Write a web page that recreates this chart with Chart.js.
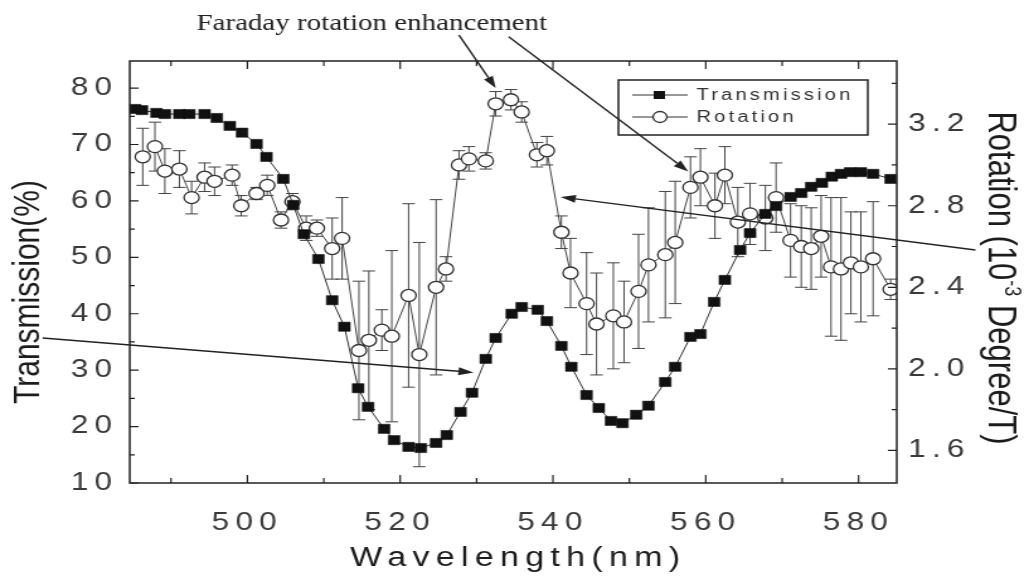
<!DOCTYPE html>
<html>
<head>
<meta charset="utf-8">
<title>Faraday rotation and transmission</title>
<script src="https://cdn.jsdelivr.net/npm/chart.js@4.4.1/dist/chart.umd.min.js"></script>
<style>
  html, body { margin: 0; padding: 0; background: #fff; }
  #chart { display: block; }
</style>
</head>
<body>
<!-- the source figure is stretched sideways, so the canvas is drawn narrow and widened by its inline style -->
<canvas id="chart" width="817" height="582" style="width:1029px;height:582px"></canvas>
<script>
// Transmission (%), filled squares
const transWavelength = [485.3, 486.2, 488.1, 489.2, 491.1, 492.4, 494.4, 496.0, 497.7, 499.3,
  501.2, 502.5, 504.7, 506.0, 507.4, 509.3, 511.1, 512.7, 514.5, 515.8,
  517.9, 519.2, 521.1, 522.7, 524.7, 526.1, 527.9, 529.4, 531.2, 532.5,
  534.6, 535.9, 538.0, 539.2, 541.1, 542.4, 544.4, 546.0, 547.6, 549.1,
  550.9, 552.5, 554.7, 556.0, 558.0, 559.3, 561.1, 562.5, 564.5, 565.8,
  567.8, 569.2, 571.1, 572.5, 573.8, 575.2, 576.5, 577.7, 578.9, 580.3,
  581.9, 584.2];
const transmission = [76.3, 76.1, 75.6, 75.4, 75.4, 75.4, 75.4, 74.7, 73.3, 72.1,
  70.1, 67.8, 63.9, 59.3, 54.1, 49.7, 42.4, 37.7, 26.8, 23.5,
  19.6, 17.6, 16.4, 16.2, 17.1, 18.5, 22.6, 26.0, 32.0, 35.7,
  40.0, 41.2, 40.7, 38.7, 34.3, 30.6, 25.6, 23.3, 21.0, 20.6,
  22.1, 23.7, 27.9, 30.6, 35.9, 36.4, 42.1, 46.0, 51.3, 54.3,
  57.7, 59.1, 60.7, 61.4, 62.5, 63.2, 64.3, 64.8, 65.1, 65.1,
  64.8, 63.9];

// Rotation (10^-3 degree/T), open circles with error bars
const rotWavelength = [486.3, 487.9, 489.2, 491.1, 492.7, 494.4, 495.7, 498.0, 499.2, 501.2,
  502.6, 504.4, 505.9, 507.7, 509.1, 511.1, 512.4, 514.6, 515.9, 517.6,
  518.9, 521.1, 522.5, 524.7, 526.0, 527.7, 529.0, 531.2, 532.5, 534.5,
  535.9, 537.9, 539.2, 541.1, 542.3, 544.4, 545.7, 547.9, 549.3, 551.2,
  552.5, 554.7, 556.0, 558.0, 559.3, 561.2, 562.5, 564.2, 565.8, 567.8,
  569.2, 571.1, 572.5, 573.8, 575.1, 576.4, 577.7, 579.0, 580.3, 581.9,
  584.2];
const rotation = [3.04, 3.09, 2.97, 2.98, 2.84, 2.94, 2.92, 2.95, 2.80, 2.86,
  2.90, 2.73, 2.82, 2.69, 2.69, 2.59, 2.64, 2.09, 2.14, 2.19,
  2.16, 2.36, 2.07, 2.40, 2.49, 3.00, 3.03, 3.02, 3.30, 3.32,
  3.26, 3.05, 3.07, 2.67, 2.47, 2.32, 2.22, 2.26, 2.23, 2.38,
  2.51, 2.56, 2.62, 2.89, 2.94, 2.80, 2.95, 2.72, 2.76, 2.74,
  2.84, 2.63, 2.60, 2.59, 2.65, 2.50, 2.49, 2.52, 2.50, 2.54,
  2.39];
const rotationErr = [0.14, 0.12, 0.11, 0.09, 0.08, 0.07, 0.07, 0.05, 0.05, 0.03,
  0.05, 0.04, 0.04, 0.06, 0.04, 0.15, 0.20, 0.34, 0.34, 0.10,
  0.42, 0.45, 0.55, 0.43, 0.06, 0.07, 0.06, 0.04, 0.06, 0.05,
  0.05, 0.06, 0.07, 0.08, 0.17, 0.25, 0.25, 0.26, 0.20, 0.28,
  0.28, 0.31, 0.30, 0.15, 0.14, 0.16, 0.14, 0.17, 0.15, 0.16,
  0.17, 0.18, 0.20, 0.20, 0.20, 0.34, 0.35, 0.25, 0.27, 0.28,
  0.05];

// Axis ticks
const xTicks = [500, 520, 540, 560, 580];
const xMinorTicks = [490, 510, 530, 550, 570];
const yTicks = [10, 20, 30, 40, 50, 60, 70, 80];
const yMinorTicks = [15, 25, 35, 45, 55, 65, 75];
const y1Ticks = [1.6, 2.0, 2.4, 2.8, 3.2];
const y1MinorTicks = [1.8, 2.2, 2.6, 3.0, 3.4];

// Annotation arrows, in (wavelength, transmission) units
const arrows = [
  { from: [527.7, 89.4], to: [532.5, 80.0] },
  { from: [534.2, 89.1], to: [557.7, 65.2] },
  { from: [473.2, 35.7], to: [529.6, 29.6] },
  { from: [595.3, 51.3], to: [541.0, 60.7] }
];

const INK = '#222';
const SANS = "'Liberation Sans', Arial, sans-serif";
Chart.defaults.font.family = SANS;

function drawArrow(ctx, x1, y1, x2, y2) {
  const ang = Math.atan2(y2 - y1, x2 - x1);
  const head = 12, half = 4;
  const bx = x2 - head * Math.cos(ang), by = y2 - head * Math.sin(ang);
  ctx.beginPath();
  ctx.moveTo(x1, y1);
  ctx.lineTo(bx, by);
  ctx.stroke();
  ctx.beginPath();
  ctx.moveTo(x2, y2);
  ctx.lineTo(bx + half * Math.sin(ang), by - half * Math.cos(ang));
  ctx.lineTo(bx - half * Math.sin(ang), by + half * Math.cos(ang));
  ctx.closePath();
  ctx.fill();
}

const figurePlugin = {
  id: 'figure',
  beforeDraw(chart) {
    // spaced-out tick digits like the original export
    chart.ctx.letterSpacing = '5px';
  },
  beforeDatasetsDraw(chart) {
    const { ctx, scales: { x, y1 } } = chart;
    ctx.save();
    ctx.strokeStyle = '#444';
    ctx.lineWidth = 1;
    rotWavelength.forEach((w, i) => {
      const px = x.getPixelForValue(w);
      const top = y1.getPixelForValue(rotation[i] + rotationErr[i]);
      const bot = y1.getPixelForValue(rotation[i] - rotationErr[i]);
      ctx.beginPath();
      ctx.moveTo(px, top); ctx.lineTo(px, bot);
      ctx.moveTo(px - 5, top); ctx.lineTo(px + 5, top);
      ctx.moveTo(px - 5, bot); ctx.lineTo(px + 5, bot);
      ctx.stroke();
    });
    ctx.restore();
  },
  afterDraw(chart) {
    const { ctx, chartArea: a, scales: { x, y, y1 } } = chart;
    ctx.save();
    ctx.letterSpacing = '0px';
    ctx.strokeStyle = INK;
    ctx.fillStyle = INK;

    // frame
    ctx.lineWidth = 1.5;
    ctx.strokeRect(a.left, a.top, a.right - a.left, a.bottom - a.top);

    // inward tick marks (mirrored on top)
    ctx.lineWidth = 1.2;
    ctx.beginPath();
    const xMark = (v, len) => {
      const p = x.getPixelForValue(v);
      ctx.moveTo(p, a.bottom); ctx.lineTo(p, a.bottom - len);
      ctx.moveTo(p, a.top); ctx.lineTo(p, a.top + len);
    };
    xTicks.forEach(v => xMark(v, 8));
    xMinorTicks.forEach(v => xMark(v, 5));
    const yMark = (v, len) => {
      const p = y.getPixelForValue(v);
      ctx.moveTo(a.left, p); ctx.lineTo(a.left + len, p);
    };
    yTicks.forEach(v => yMark(v, 7));
    yMinorTicks.forEach(v => yMark(v, 4));
    const y1Mark = (v, len) => {
      const p = y1.getPixelForValue(v);
      ctx.moveTo(a.right, p); ctx.lineTo(a.right - len, p);
    };
    y1Ticks.forEach(v => y1Mark(v, 7));
    y1MinorTicks.forEach(v => y1Mark(v, 4));
    ctx.stroke();

    // legend box
    const lg = { left: 491, top: 80, right: 689, bottom: 135 };
    ctx.fillStyle = '#fff';
    ctx.fillRect(lg.left, lg.top, lg.right - lg.left, lg.bottom - lg.top);
    ctx.lineWidth = 1.5;
    ctx.strokeRect(lg.left, lg.top, lg.right - lg.left, lg.bottom - lg.top);
    const rows = [95, 117];
    chart.data.datasets.forEach((ds, i) => {
      const ry = rows[i];
      ctx.lineWidth = 1;
      ctx.strokeStyle = '#333';
      ctx.beginPath();
      ctx.moveTo(502, ry); ctx.lineTo(546, ry);
      ctx.stroke();
      if (ds.pointStyle === 'rect') {
        ctx.fillStyle = '#111';
        ctx.fillRect(519, ry - 4, 9, 8);
      } else {
        ctx.fillStyle = '#fff';
        ctx.lineWidth = 1.3;
        ctx.beginPath();
        ctx.arc(524, ry, 5.5, 0, Math.PI * 2);
        ctx.fill();
        ctx.stroke();
      }
      ctx.fillStyle = '#333';
      ctx.font = '16px ' + SANS;
      ctx.letterSpacing = '2.5px';
      ctx.textAlign = 'left';
      ctx.textBaseline = 'middle';
      ctx.fillText(ds.label, 553, ry + 1);
      ctx.letterSpacing = '0px';
    });

    // annotation arrows
    ctx.strokeStyle = INK;
    ctx.fillStyle = INK;
    ctx.lineWidth = 1.4;
    arrows.forEach(ar => {
      drawArrow(ctx,
        x.getPixelForValue(ar.from[0]), y.getPixelForValue(ar.from[1]),
        x.getPixelForValue(ar.to[0]), y.getPixelForValue(ar.to[1]));
    });

    // annotation label
    ctx.font = "23px 'Liberation Serif', 'Times New Roman', serif";
    ctx.textAlign = 'left';
    ctx.textBaseline = 'alphabetic';
    ctx.fillText('Faraday rotation enhancement', 156, 30);

    // axis titles
    ctx.fillStyle = '#1c1c1c';
    ctx.font = '27px ' + SANS;
    ctx.textAlign = 'center';
    ctx.textBaseline = 'middle';
    ctx.letterSpacing = '5px';
    ctx.fillText('Wavelength(nm)', (a.left + a.right) / 2 + 4, 559);
    ctx.letterSpacing = '0px';

    ctx.save();
    ctx.translate(23, 292);
    ctx.rotate(-Math.PI / 2);
    ctx.font = '30px ' + SANS;
    ctx.fillText('Transmission(%)', 0, 0);
    ctx.restore();

    ctx.save();
    ctx.translate(794, 278);
    ctx.rotate(Math.PI / 2);
    ctx.textAlign = 'left';
    const partA = 'Rotation (10', sup = '-3', partB = ' Degree/T)';
    ctx.font = '31px ' + SANS;
    const wa = ctx.measureText(partA).width, wb = ctx.measureText(partB).width;
    ctx.font = '18px ' + SANS;
    const ws = ctx.measureText(sup).width;
    let cx = -(wa + ws + wb) / 2;
    ctx.font = '31px ' + SANS;
    ctx.fillText(partA, cx, 0);
    cx += wa;
    ctx.font = '18px ' + SANS;
    ctx.fillText(sup, cx, -9);
    cx += ws;
    ctx.font = '31px ' + SANS;
    ctx.fillText(partB, cx, 0);
    ctx.restore();

    ctx.restore();
  }
};

const tickFont = { size: 25 };
const tickColor = '#3a3a3a';

new Chart(document.getElementById('chart'), {
  type: 'line',
  data: {
    datasets: [
      {
        label: 'Transmission',
        data: transWavelength.map((w, i) => ({ x: w, y: transmission[i] })),
        yAxisID: 'y',
        borderColor: '#333',
        borderWidth: 1,
        pointStyle: 'rect',
        pointRadius: 6.5,
        pointBackgroundColor: '#111',
        pointBorderColor: '#111',
        pointBorderWidth: 0.5
      },
      {
        label: 'Rotation',
        data: rotWavelength.map((w, i) => ({ x: w, y: rotation[i] })),
        yAxisID: 'y1',
        borderColor: '#444',
        borderWidth: 1,
        pointStyle: 'circle',
        pointRadius: 6,
        pointBackgroundColor: '#fff',
        pointBorderColor: '#333',
        pointBorderWidth: 1.3
      }
    ]
  },
  options: {
    responsive: false,
    animation: false,
    layout: { padding: { top: 61, left: 0, right: 0, bottom: 0 } },
    plugins: { legend: { display: false }, tooltip: { enabled: false } },
    scales: {
      x: {
        type: 'linear',
        position: 'bottom',
        min: 484.6,
        max: 585,
        afterBuildTicks: s => { s.ticks = xTicks.map(v => ({ value: v })); },
        afterFit: s => { s.height = 99; },
        grid: { display: false, drawTicks: false },
        border: { display: false },
        ticks: { padding: 25, color: tickColor, font: tickFont, maxRotation: 0 }
      },
      y: {
        position: 'left',
        min: 10,
        max: 84.8,
        afterBuildTicks: s => { s.ticks = yTicks.map(v => ({ value: v })); },
        afterFit: s => { s.width = 103; },
        grid: { display: false, drawTicks: false },
        border: { display: false },
        ticks: { padding: 9, color: tickColor, font: tickFont }
      },
      y1: {
        position: 'right',
        min: 1.44,
        max: 3.51,
        afterBuildTicks: s => { s.ticks = y1Ticks.map(v => ({ value: v })); },
        afterFit: s => { s.width = 105; },
        grid: { display: false, drawTicks: false },
        border: { display: false },
        ticks: { padding: 9, color: tickColor, font: tickFont, callback: v => v.toFixed(1) }
      }
    }
  },
  plugins: [figurePlugin]
});
</script>
</body>
</html>
